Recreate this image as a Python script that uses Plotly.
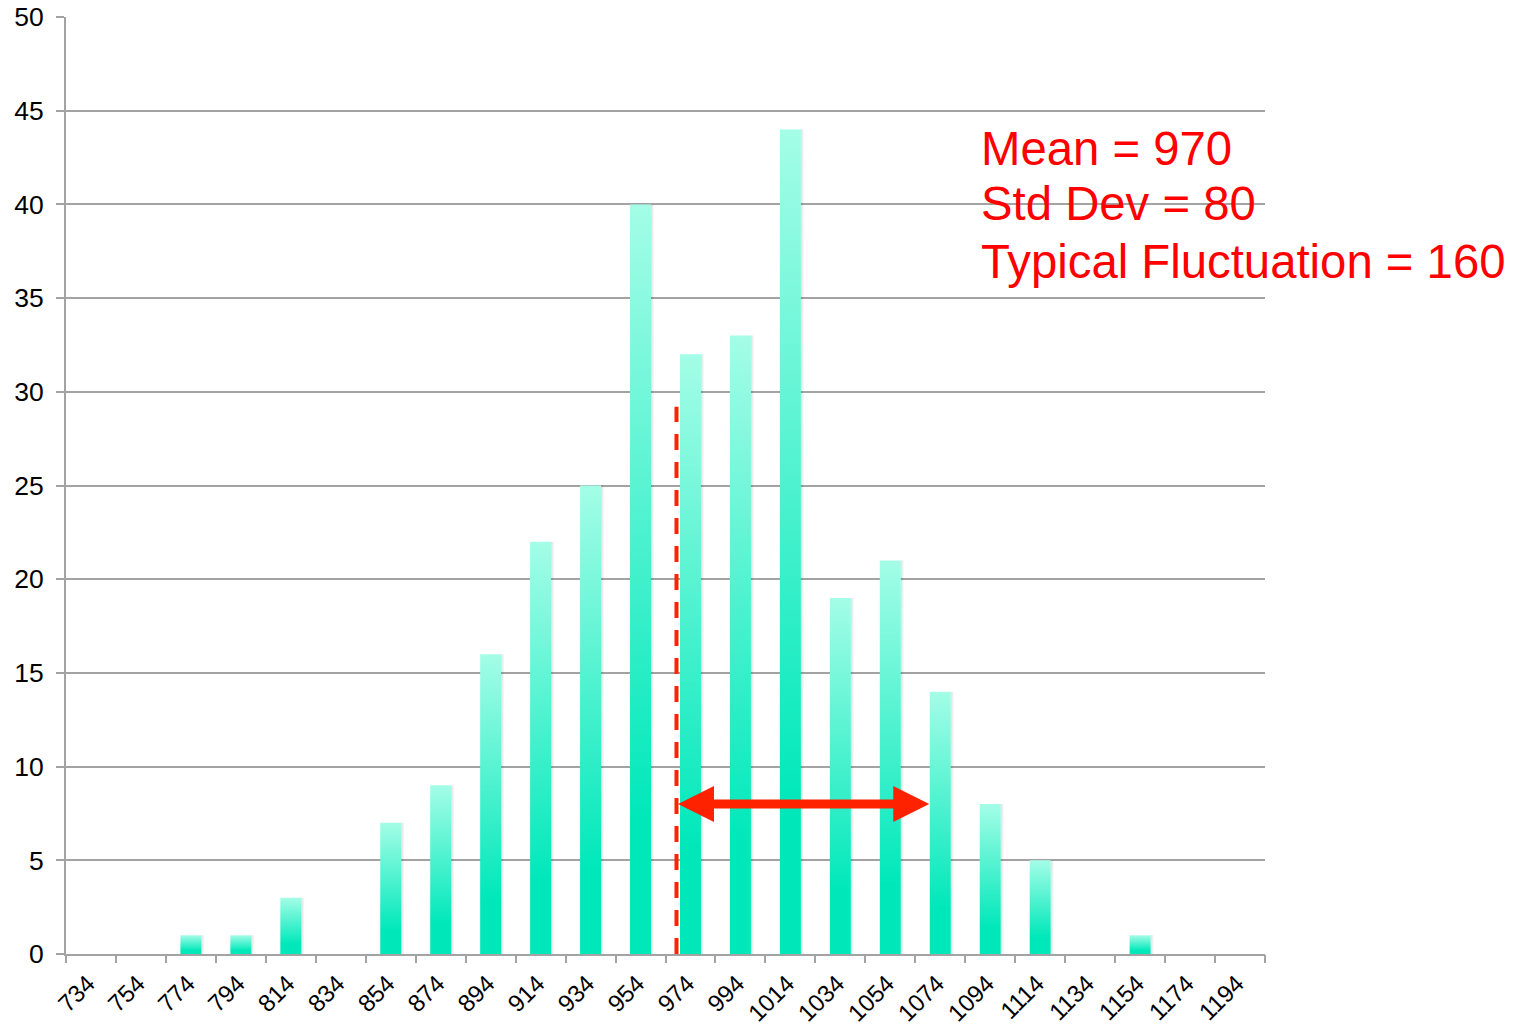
import plotly.graph_objects as go

# Histogram bins (bin label) and their counts
bin_labels = ["734", "754", "774", "794", "814", "834", "854", "874", "894", "914",
              "934", "954", "974", "994", "1014", "1034", "1054", "1074", "1094",
              "1114", "1134", "1154", "1174", "1194"]
counts = [0, 0, 1, 1, 3, 0, 7, 9, 16, 22, 25, 40, 32, 33, 44, 19, 21, 14, 8, 5, 0, 1, 0, 0]

summary_lines = ["Mean = 970", "Std Dev = 80", "Typical Fluctuation = 160"]

BAR_W = 0.42
n = len(bin_labels)
idx = list(range(n))

fig = go.Figure()

# Each bar is a filled polygon so it can carry a vertical colour gradient
bar_scale = [[0.0, "#00e8ba"], [0.18, "#00e8ba"], [1.0, "#a4fde7"]]
for i, c in zip(idx, counts):
    if c <= 0:
        continue
    x0, x1 = i - BAR_W / 2, i + BAR_W / 2
    # soft shadow on the right edge
    fig.add_trace(go.Scatter(
        x=[x1, x1 + 0.07, x1 + 0.07, x1, x1], y=[0, 0, c, c, 0],
        xaxis="x2", mode="none", fill="toself",
        fillgradient=dict(type="horizontal",
                          colorscale=[[0, "rgba(0,0,0,0.13)"], [1, "rgba(0,0,0,0)"]]),
        hoverinfo="skip", showlegend=False))
    fig.add_trace(go.Scatter(
        x=[x0, x1, x1, x0, x0], y=[0, 0, c, c, 0],
        xaxis="x2", mode="none", fill="toself",
        fillgradient=dict(type="vertical", colorscale=bar_scale),
        hoverinfo="skip", showlegend=False, name=bin_labels[i]))

# Mean marker line (on the labelled axis so that axis is drawn)
mean_pos = 11.72
fig.add_trace(go.Scatter(
    x=[mean_pos, mean_pos], y=[0, 29.2], xaxis="x", mode="lines",
    line=dict(color="#ff2200", width=4, dash="16px,12px"),
    hoverinfo="skip", showlegend=False))

# Double-headed arrow showing the fluctuation span
arrow_y = 8
fig.add_annotation(
    x=16.78, y=arrow_y, ax=mean_pos, ay=arrow_y,
    xref="x2", yref="y", axref="x2", ayref="y",
    text="", showarrow=True, arrowside="end+start",
    arrowhead=2, startarrowhead=2, arrowsize=0.8, startarrowsize=0.8,
    arrowwidth=9, arrowcolor="#ff2200")

# Summary statistics text
for line, yv in zip(summary_lines, [42.99, 40.04, 36.95]):
    fig.add_annotation(
        x=mean_pos + 6.06, y=yv, xref="x2", yref="y", text=line,
        showarrow=False, xanchor="left", yanchor="middle",
        font=dict(family="Liberation Sans, Arial, sans-serif", size=47.3, color="#ff0000"))

grid = "#a3a3a3"
fig.update_layout(
    width=1526, height=1028,
    margin=dict(l=66, r=261, t=17, b=74, autoexpand=False),
    paper_bgcolor="white", plot_bgcolor="white",
    font=dict(family="Liberation Sans, Arial, sans-serif", size=25, color="#000000"),
    xaxis=dict(
        range=[-0.5, n - 0.5], tickmode="array", tickvals=idx, ticktext=bin_labels,
        tickangle=-45, ticks="", showgrid=False, zeroline=False, automargin=False,
        showline=True, linecolor=grid, linewidth=2,
        ticklabelstandoff=4, ticklabelshift=-3,
        tickfont=dict(size=24)),
    xaxis2=dict(
        overlaying="x", anchor="y", range=[-0.5, n - 0.5],
        tickmode="array", tickvals=[i - 0.5 for i in range(n + 1)],
        ticks="outside", ticklen=8, tickwidth=2, tickcolor=grid,
        showticklabels=False, showgrid=False, zeroline=False, showline=False),
    yaxis=dict(
        range=[0, 50], dtick=5, ticks="outside", ticklen=8, tickwidth=2, tickcolor=grid,
        showgrid=True, gridcolor=grid, gridwidth=2, zeroline=False, automargin=False,
        showline=True, linecolor=grid, linewidth=2, ticklabelstandoff=7,
        tickfont=dict(size=26.5)),
)

fig.write_html("out.html")
